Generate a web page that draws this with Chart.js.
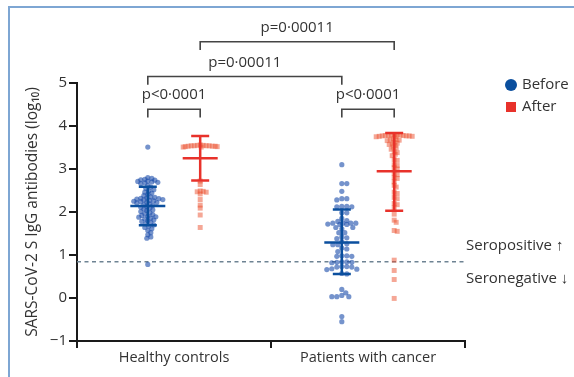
<!DOCTYPE html>
<html>
<head>
<meta charset="utf-8">
<script src="https://cdn.jsdelivr.net/npm/chart.js@4.4.1/dist/chart.umd.min.js"></script>
<style>
  body { margin: 0; background: #fff; }
  #wrap { position: relative; width: 574px; height: 377px; }
  #frame { position: absolute; left: 8px; top: 6px; right: 0; bottom: 0;
           border-left: 2px solid #7ea6d3; border-top: 2px solid #7ea6d3; }
  canvas { position: absolute; left: 0; top: 0; }
</style>
</head>
<body>
<div id="wrap">
  <div id="frame"></div>
  <canvas id="chart" width="574" height="377"></canvas>
</div>
<script>
const groups = ['Healthy controls', 'Patients with cancer'];
const groupCentre = [1, 3];
const sideShift = 0.27;

// log10 antibody values
const beforeHealthy = [3.51, 2.80, 2.78, 2.76, 2.75, 2.74, 2.72, 2.71, 2.70, 2.69, 2.68, 2.66,
  2.62, 2.58, 2.55, 2.52, 2.49, 2.46, 2.44, 2.41, 2.38,
  2.35, 2.34, 2.33, 2.32, 2.31, 2.30, 2.29, 2.28, 2.27, 2.26, 2.25, 2.24, 2.23, 2.22, 2.21,
  2.19, 2.17, 2.15, 2.13, 2.11, 2.09, 2.07, 2.05, 2.03, 2.01,
  1.98, 1.96, 1.94, 1.92, 1.90, 1.89, 1.88, 1.86, 1.84, 1.82, 1.80, 1.78, 1.76,
  1.73, 1.70, 1.67, 1.64, 1.61, 1.57, 1.52, 1.47, 1.42, 1.39, 0.78];
const afterHealthy = [3.56, 3.55, 3.55, 3.54, 3.54, 3.54, 3.54, 3.53, 3.53, 3.53, 3.52, 3.52, 3.51, 3.51,
  2.72, 2.64, 2.49, 2.48, 2.47, 2.46, 2.42, 2.29, 2.16, 2.09, 1.93, 1.64];
const beforeCancer = [3.10, 2.66, 2.66, 2.48, 2.31, 2.31, 2.28, 2.13, 2.13, 2.12, 2.12, 1.98, 1.98,
  1.85, 1.80, 1.78, 1.74, 1.74, 1.74, 1.74, 1.72, 1.71, 1.71, 1.64, 1.64, 1.61, 1.52, 1.52,
  1.42, 1.40, 1.38, 1.31, 1.26, 1.24, 1.24, 1.16, 1.14, 1.08, 0.98, 0.98, 0.97, 0.97,
  0.84, 0.84, 0.83, 0.83, 0.82, 0.73, 0.73, 0.72, 0.72, 0.68, 0.67, 0.66, 0.57, 0.56,
  0.20, 0.12, 0.06, 0.03, 0.03, 0.03, -0.43, -0.55];
const afterCancer = [3.80, 3.80, 3.79, 3.79, 3.78, 3.78, 3.78, 3.77, 3.77, 3.77, 3.76, 3.76, 3.75, 3.75,
  3.70, 3.69, 3.68, 3.67, 3.66, 3.62, 3.60, 3.58, 3.57, 3.55, 3.51, 3.49, 3.46, 3.40, 3.38,
  3.34, 3.31, 3.22, 3.20, 3.10, 3.08, 3.03, 3.00, 2.90, 2.87, 2.80, 2.78, 2.70, 2.62, 2.58,
  2.46, 2.43, 2.34, 2.31, 2.20, 2.17, 2.10, 1.95, 1.81, 1.76, 1.57, 1.55, 0.88, 0.64, 0.43, -0.01];

// mean and error bar ends, per group
const beforeMean = [2.14, 1.29];
const beforeLow = [1.69, 0.56];
const beforeHigh = [2.59, 2.06];
const afterMean = [3.25, 2.95];
const afterLow = [2.73, 2.03];
const afterHigh = [3.77, 3.84];

const cutoff = 0.845;
const yTicks = [-1, 0, 1, 2, 3, 4, 5];

// significance brackets
const pFrom = [0.73, 2.73, 0.73, 1.27];
const pTo = [1.27, 3.27, 2.73, 3.27];
const pLevel = [4.39, 4.39, 5.15, 5.96];
const pLabel = ['p<0·0001', 'p<0·0001', 'p=0·00011', 'p=0·00011'];

const BLUE = '#0b4f9e';
const RED = '#e8322b';
const FONT = '"Open Sans", sans-serif';
const PX_X = 97, PX_Y = 43;

// simple beeswarm: spread points sideways so they don't sit on each other
function swarm(values, maxHalf, gapMin) {
  const placed = [];
  const out = new Array(values.length);
  const order = values.map((v, i) => i).sort((a, b) => values[b] - values[a]);
  for (const i of order) {
    const py = values[i] * PX_Y;
    let best = 0, bestGap = -1;
    for (let k = 0; k <= 2 * maxHalf; k++) {
      const dx = (k % 2 ? 1 : -1) * Math.ceil(k / 2);
      let gap = Infinity;
      for (const p of placed) gap = Math.min(gap, Math.hypot(p.dx - dx, p.py - py));
      if (gap >= gapMin) { best = dx; break; }
      if (gap > bestGap) { bestGap = gap; best = dx; }
    }
    placed.push({ dx: best, py });
    out[i] = best / PX_X;
  }
  return out;
}

function points(values, centre, maxHalf, gapMin) {
  const off = swarm(values, maxHalf, gapMin);
  return values.map((v, i) => ({ x: centre + off[i], y: v }));
}

const beforePts = points(beforeHealthy, groupCentre[0] - sideShift, 17, 3.4)
  .concat(points(beforeCancer, groupCentre[1] - sideShift, 17, 4.6));
const afterPts = points(afterHealthy, groupCentre[0] + sideShift, 17, 2.6)
  .concat(points(afterCancer, groupCentre[1] + sideShift, 18, 2.6));

const bracketSets = pFrom.map((f, i) => ({
  label: 'b' + i,
  data: [{ x: f, y: pLevel[i] - 0.19 }, { x: f, y: pLevel[i] }, { x: pTo[i], y: pLevel[i] }, { x: pTo[i], y: pLevel[i] - 0.19 }],
  showLine: true, borderColor: '#444', borderWidth: 1.6, pointRadius: 0, clip: false, fill: false
}));

const errorBars = {
  id: 'errorBars',
  afterDatasetsDraw(chart) {
    const { ctx, scales: { x, y } } = chart;
    const draw = (cx, m, lo, hi, color) => {
      const px = x.getPixelForValue(cx);
      ctx.save();
      ctx.strokeStyle = color;
      ctx.lineWidth = 2.5;
      ctx.beginPath();
      ctx.moveTo(px, y.getPixelForValue(lo)); ctx.lineTo(px, y.getPixelForValue(hi));
      ctx.moveTo(px - 17.5, y.getPixelForValue(m)); ctx.lineTo(px + 17.5, y.getPixelForValue(m));
      ctx.moveTo(px - 9, y.getPixelForValue(lo)); ctx.lineTo(px + 9, y.getPixelForValue(lo));
      ctx.moveTo(px - 9, y.getPixelForValue(hi)); ctx.lineTo(px + 9, y.getPixelForValue(hi));
      ctx.stroke();
      ctx.restore();
    };
    groupCentre.forEach((c, g) => {
      draw(c - sideShift, beforeMean[g], beforeLow[g], beforeHigh[g], BLUE);
      draw(c + sideShift, afterMean[g], afterLow[g], afterHigh[g], RED);
    });
  }
};

const annotations = {
  id: 'annotations',
  afterDraw(chart) {
    const { ctx, chartArea, scales: { x, y } } = chart;
    ctx.save();
    ctx.font = '15px ' + FONT;
    ctx.fillStyle = '#333';
    ctx.textAlign = 'center';
    ctx.textBaseline = 'middle';
    pLabel.forEach((t, i) => {
      ctx.fillText(t, x.getPixelForValue((pFrom[i] + pTo[i]) / 2), y.getPixelForValue(pLevel[i]) - 14);
    });
    ctx.textAlign = 'left';
    const cy = y.getPixelForValue(cutoff);
    ctx.fillText('Seropositive ↑', chartArea.right + 1, cy - 16);
    ctx.fillText('Seronegative ↓', chartArea.right + 1, cy + 17);
    // legend
    const lx = chartArea.right + 46;
    ctx.fillStyle = BLUE;
    ctx.beginPath(); ctx.arc(lx, chartArea.top + 2, 6, 0, Math.PI * 2); ctx.fill();
    ctx.fillStyle = RED;
    ctx.fillRect(lx - 5, chartArea.top + 19, 10, 10);
    ctx.fillStyle = '#333';
    ctx.fillText('Before', lx + 11, chartArea.top + 2);
    ctx.fillText('After', lx + 11, chartArea.top + 24);
    ctx.restore();
  }
};

new Chart(document.getElementById('chart'), {
  type: 'scatter',
  data: {
    datasets: [
      { label: 'Before', data: beforePts, pointStyle: 'circle', pointRadius: 2.6,
        backgroundColor: 'rgba(25,75,170,0.6)', borderWidth: 0 },
      { label: 'After', data: afterPts, pointStyle: 'rect', pointRadius: 3.5,
        backgroundColor: 'rgba(236,80,45,0.5)', borderWidth: 0 },
      { label: 'cutoff', data: [{ x: 0, y: cutoff }, { x: 4, y: cutoff }], showLine: true,
        borderColor: '#6e8393', borderWidth: 1.5, borderDash: [4, 3.5], pointRadius: 0 }
    ].concat(bracketSets)
  },
  options: {
    responsive: false,
    animation: false,
    events: [],
    layout: { padding: { top: 83, right: 109, left: 0, bottom: 0 } },
    plugins: { legend: { display: false }, tooltip: { enabled: false } },
    scales: {
      x: {
        type: 'linear', min: 0, max: 4,
        afterBuildTicks: s => { s.ticks = [0, 1, 2, 3, 4].map(v => ({ value: v })); },
        afterFit: s => { s.height = 36; },
        border: { display: true, color: '#1a1a1a', width: 2 },
        grid: { drawOnChartArea: false, tickLength: 7, lineWidth: 2,
          tickColor: c => (c.tick && c.tick.value % 2 === 0) ? '#1a1a1a' : 'rgba(0,0,0,0)' },
        ticks: { color: '#333', font: { family: FONT, size: 14.5 }, padding: 1, maxRotation: 0, autoSkip: false,
          callback: v => v === 1 ? groups[0] : v === 3 ? groups[1] : '' }
      },
      y: {
        min: -1, max: 5,
        afterBuildTicks: s => { s.ticks = yTicks.map(v => ({ value: v })); },
        afterFit: s => { s.width = 77; },
        border: { display: true, color: '#1a1a1a', width: 2 },
        grid: { drawOnChartArea: false, tickLength: 8, lineWidth: 2, tickColor: '#1a1a1a' },
        ticks: { color: '#333', font: { family: FONT, size: 15 }, padding: 2,
          callback: v => v < 0 ? '−' + Math.abs(v) : String(v) },
        title: { display: true, text: 'SARS-CoV-2 S IgG antibodies (log₁₀)', color: '#333',
          font: { family: FONT, size: 15.5 }, padding: { top: 23, bottom: 0 } }
      }
    }
  },
  plugins: [errorBars, annotations]
});
</script>
</body>
</html>
